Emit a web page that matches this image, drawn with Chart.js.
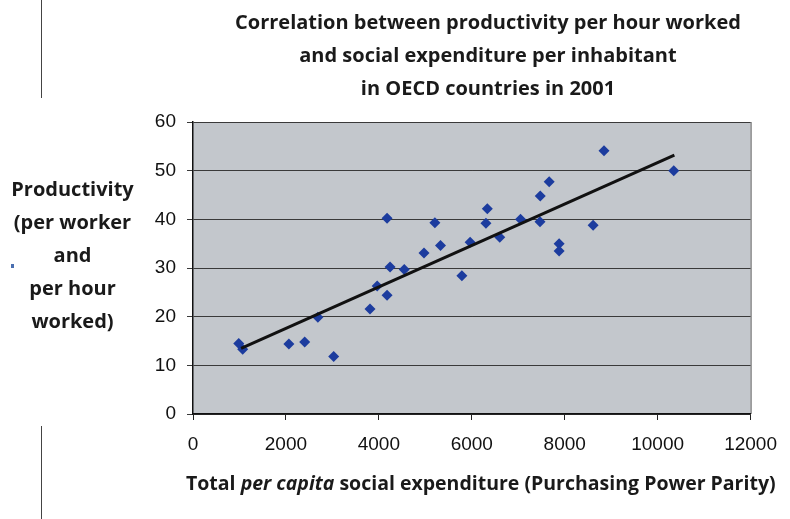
<!DOCTYPE html>
<html>
<head>
<meta charset="utf-8">
<script src="https://cdn.jsdelivr.net/npm/chart.js@4.4.0/dist/chart.umd.min.js"></script>
<style>
  html, body { margin: 0; padding: 0; background: #fff; }
  #wrap { position: relative; width: 790px; height: 519px; overflow: hidden; }
  #chart { position: absolute; left: 0; top: 0; }
  .txt { position: absolute; font-family: "Open Sans", "Noto Sans", sans-serif; font-weight: bold; color: #1a1a1a; white-space: nowrap; }
  #title { left: 188px; width: 600px; top: 5px; text-align: center; font-size: 20px; line-height: 33px; }
  #ytitle { left: 0px; width: 145px; top: 172px; text-align: center; font-size: 20px; line-height: 33px; }
  #xtitle { left: 186px; top: 469px; font-size: 19.5px; }
  .mark { position: absolute; background: #444; }
</style>
</head>
<body>
<div id="wrap">
  <canvas id="chart" width="790" height="519"></canvas>
  <div id="title" class="txt">Correlation between productivity per hour worked<br>and social expenditure per inhabitant<br>in OECD countries in 2001</div>
  <div id="ytitle" class="txt">Productivity<br>(per worker<br>and<br>per hour<br>worked)</div>
  <div id="xtitle" class="txt">Total <i>per capita</i> social expenditure (Purchasing Power Parity)</div>
  <div class="mark" style="left:41px; top:0; width:1px; height:98px;"></div>
  <div class="mark" style="left:41px; top:426px; width:1px; height:93px;"></div>
  <div class="mark" style="left:11px; top:264px; width:3px; height:4px; background:#4a6fb0;"></div>
</div>
<script>
// Dépense sociale par habitant (PPA) - axe X
const expenditure = [985, 1070, 2064, 2404, 2688, 3028, 3809, 3964, 4177, 4177, 4241, 4547, 4972, 5206, 5326,
  5787, 5964, 6334, 6304, 6602, 7049, 7474, 7666, 7468, 7879, 7879, 8611, 8845, 10347]
// Productivité par heure travaillée - axe Y
const productivity = [14.5, 13.3, 14.4, 14.8, 19.9, 11.8, 21.6, 26.3, 40.2, 24.4, 30.2, 29.7, 33.1, 39.3, 34.6,
  28.4, 35.3, 42.2, 39.2, 36.3, 40.0, 44.8, 47.7, 39.5, 35.0, 33.5, 38.8, 54.1, 50.0]

// Extrémités de la droite de tendance
const trendX = [1035, 10360]
const trendY = [13.5, 53.2]

// Graduations
const xTicks = [0, 2000, 4000, 6000, 8000, 10000, 12000]
const yTicks = [0, 10, 20, 30, 40, 50, 60]

const points = expenditure.map((x, i) => ({ x: x, y: productivity[i] }))
const trend = trendX.map((x, i) => ({ x: x, y: trendY[i] }))

// Fond gris de la zone de tracé + bord droit
const plotBg = {
  id: "plotBg",
  beforeDraw(chart) {
    const { ctx, chartArea: a } = chart
    ctx.save()
    ctx.fillStyle = "#c3c7cc"
    ctx.fillRect(a.left, a.top, a.right - a.left, a.bottom - a.top)
    ctx.strokeStyle = "#555"
    ctx.lineWidth = 1
    ctx.beginPath()
    ctx.moveTo(a.right + 0.5, a.top)
    ctx.lineTo(a.right + 0.5, a.bottom)
    ctx.stroke()
    ctx.restore()
  },
}

const tickFont = { family: "Liberation Sans, Arial, sans-serif", size: 19 }

const ctx = document.getElementById("chart").getContext("2d")

const chart = new Chart(ctx, {
  type: "scatter",
  data: {
    datasets: [
      {
        label: "Pays OCDE",
        data: points,
        pointStyle: "rectRot",
        pointRadius: 5.5,
        backgroundColor: "#1c3c9e",
        borderColor: "#1c3c9e",
        borderWidth: 0,
        order: 2,
      },
      {
        label: "Tendance",
        type: "line",
        data: trend,
        borderColor: "#111",
        borderWidth: 3,
        pointRadius: 0,
        fill: false,
        order: 1,
      },
    ],
  },
  options: {
    responsive: false,
    animation: false,
    layout: { padding: { top: 122, right: 34, left: 0, bottom: 0 } },
    plugins: {
      legend: { display: false },
      tooltip: { enabled: false },
    },
    scales: {
      x: {
        type: "linear",
        min: 0,
        max: 12000,
        afterBuildTicks: (s) => { s.ticks = xTicks.map((v) => ({ value: v })) },
        afterFit: (s) => { s.height = 105 },
        ticks: {
          color: "#111",
          padding: 13,
          font: tickFont,
          callback: (v) => String(v), // pas de séparateur de milliers
        },
        grid: {
          drawOnChartArea: false,
          drawTicks: true,
          tickLength: 6,
          color: "#222",
        },
        border: { color: "#111", width: 1.5 },
      },
      y: {
        min: 0,
        max: 60,
        afterBuildTicks: (s) => { s.ticks = yTicks.map((v) => ({ value: v })) },
        afterFit: (s) => { s.width = 193 },
        ticks: {
          color: "#111",
          padding: 11,
          font: tickFont,
          callback: (v) => String(v),
        },
        grid: {
          color: "#3a3a3a",
          lineWidth: 1,
          tickLength: 6,
        },
        border: { color: "#111", width: 1.5 },
      },
    },
  },
  plugins: [plotBg],
})
</script>
</body>
</html>
